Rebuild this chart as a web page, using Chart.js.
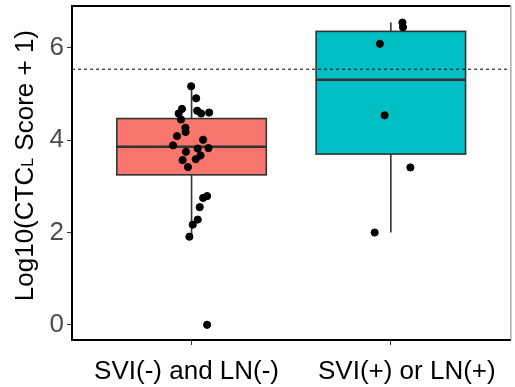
<!DOCTYPE html>
<html>
<head>
<meta charset="utf-8">
<script src="https://cdn.jsdelivr.net/npm/chart.js@4.4.1/dist/chart.umd.min.js"></script>
<style>
  html, body { margin: 0; padding: 0; background: #fff; }
  #wrap { width: 515px; height: 387px; }
</style>
</head>
<body>
<div id="wrap"><canvas id="chart" width="515" height="387"></canvas></div>
<script>
// --- Daten ---
const kategorien = ['SVI(-) and LN(-)', 'SVI(+) or LN(+)'];
const positionen = [1, 2];
const boxFarben  = ['#F8766D', '#00BFC4'];

// Boxplot-Kennwerte je Gruppe (untere Antenne, Q1, Median, Q3, obere Antenne)
const antenneUnten = [1.91, 2.00];
const q1           = [3.25, 3.70];
const median       = [3.86, 5.31];
const q3           = [4.47, 6.36];
const antenneOben  = [5.17, 6.55];

// Gejitterte Einzelwerte, Gruppe 1
const gruppe1X = [0.998, 1.023, 0.952, 0.935, 1.028, 1.048, 1.088, 0.947, 0.969, 0.970,
                  0.927, 1.058, 0.907, 1.031, 1.085, 0.972, 1.045, 1.021, 0.955, 0.982,
                  1.078, 1.058, 1.041, 1.031, 1.006, 0.989, 1.078];
const gruppe1Y = [5.17, 4.91, 4.68, 4.58, 4.64, 4.58, 4.60, 4.45, 4.27, 4.18,
                  4.09, 4.01, 3.89, 3.82, 3.83, 3.75, 3.67, 3.59, 3.57, 3.42,
                  2.79, 2.75, 2.55, 2.28, 2.17, 1.91, 0.00];
// Gruppe 2
const gruppe2X = [2.058, 2.061, 1.945, 1.969, 2.098, 1.919];
const gruppe2Y = [6.55, 6.45, 6.09, 4.54, 3.41, 2.00];

const schwelle = 5.54;            // gestrichelte Referenzlinie
const yTicks   = [0, 2, 4, 6];

const SCHRIFT = '"Liberation Sans", Arial, sans-serif';

const punkte = [
  ...gruppe1X.map((x, i) => ({ x, y: gruppe1Y[i] })),
  ...gruppe2X.map((x, i) => ({ x, y: gruppe2Y[i] })),
];

// --- Boxen, Rahmen und Beschriftungen zeichnen ---
const boxPlugin = {
  id: 'boxen',
  beforeDatasetsDraw(chart) {
    const { ctx, scales: { x, y } } = chart;
    ctx.save();
    positionen.forEach((pos, i) => {
      const xc = x.getPixelForValue(pos);
      const halb = x.getPixelForValue(pos + 0.375) - xc;
      ctx.strokeStyle = '#333333';
      // Antennen
      ctx.lineWidth = 1.6;
      ctx.beginPath();
      ctx.moveTo(xc, y.getPixelForValue(q3[i]));
      ctx.lineTo(xc, y.getPixelForValue(antenneOben[i]));
      ctx.moveTo(xc, y.getPixelForValue(q1[i]));
      ctx.lineTo(xc, y.getPixelForValue(antenneUnten[i]));
      ctx.stroke();
      // Box
      const oben = y.getPixelForValue(q3[i]);
      const unten = y.getPixelForValue(q1[i]);
      ctx.fillStyle = boxFarben[i];
      ctx.fillRect(xc - halb, oben, 2 * halb, unten - oben);
      ctx.strokeRect(xc - halb, oben, 2 * halb, unten - oben);
      // Median
      ctx.lineWidth = 2.6;
      const ym = y.getPixelForValue(median[i]);
      ctx.beginPath();
      ctx.moveTo(xc - halb, ym);
      ctx.lineTo(xc + halb, ym);
      ctx.stroke();
    });
    ctx.restore();
  },
  afterDraw(chart) {
    const { ctx, chartArea: a, scales: { x } } = chart;
    ctx.save();
    // oberer Rahmen schwarz, rechter grau
    ctx.strokeStyle = '#000';
    ctx.lineWidth = 2;
    ctx.beginPath();
    ctx.moveTo(a.left - 1, a.top);
    ctx.lineTo(a.right, a.top);
    ctx.stroke();
    ctx.strokeStyle = '#7f7f7f';
    ctx.lineWidth = 1;
    ctx.beginPath();
    ctx.moveTo(a.right + 0.5, a.top);
    ctx.lineTo(a.right + 0.5, a.bottom);
    ctx.stroke();

    // Kategorien unter der x-Achse
    const versatz = [-5, 16];
    ctx.fillStyle = '#000';
    ctx.font = '26px ' + SCHRIFT;
    ctx.textAlign = 'center';
    ctx.textBaseline = 'alphabetic';
    kategorien.forEach((k, i) => {
      ctx.fillText(k, x.getPixelForValue(positionen[i]) + versatz[i], 379);
    });

    // y-Achsentitel mit kleinem "L"
    const teile = [['Log10(CTC', 26], ['L', 16], [' Score + 1)', 26]];
    let gesamt = 0;
    teile.forEach(([t, g]) => { ctx.font = g + 'px ' + SCHRIFT; gesamt += ctx.measureText(t).width; });
    ctx.translate(32.5, 30 + gesamt);
    ctx.rotate(-Math.PI / 2);
    ctx.textAlign = 'left';
    let pos = 0;
    teile.forEach(([t, g]) => {
      ctx.font = g + 'px ' + SCHRIFT;
      ctx.fillText(t, pos, 0);
      pos += ctx.measureText(t).width;
    });
    ctx.restore();
  }
};

new Chart(document.getElementById('chart'), {
  type: 'scatter',
  data: {
    datasets: [
      {
        label: 'Werte',
        data: punkte,
        backgroundColor: '#000',
        borderColor: '#000',
        pointRadius: 3.6,
        pointHoverRadius: 3.6,
        order: 1,
      },
      {
        type: 'line',
        label: 'Schwelle',
        data: [{ x: 0.4, y: schwelle }, { x: 2.6, y: schwelle }],
        borderColor: '#000',
        borderWidth: 1,
        borderDash: [3, 3],
        pointRadius: 0,
        fill: false,
        order: 2,
      },
    ],
  },
  options: {
    responsive: false,
    animation: false,
    devicePixelRatio: 1,
    layout: { padding: { top: 6, right: 2, bottom: 0, left: 0 } },
    plugins: { legend: { display: false }, tooltip: { enabled: false } },
    scales: {
      x: {
        type: 'linear',
        min: 0.4,
        max: 2.6,
        afterFit: (s) => { s.height = 47; s.paddingLeft = 0; s.paddingRight = 0; },
        afterBuildTicks: (s) => { s.ticks = positionen.map(v => ({ value: v })); },
        ticks: { display: false },
        grid: { drawOnChartArea: false, tickLength: 5, tickColor: '#333', drawTicks: true },
        border: { display: true, color: '#000', width: 2 },
      },
      y: {
        min: -0.33,
        max: 6.91,
        // Chart.js reserviert sonst halbe Label-Höhe oben/unten
        afterFit: (s) => { s.width = 72; s.paddingTop = 0; s.paddingBottom = 0; },
        afterBuildTicks: (s) => { s.ticks = yTicks.map(v => ({ value: v })); },
        ticks: {
          color: '#4D4D4D',
          font: { family: SCHRIFT, size: 26 },
          padding: 3,
        },
        grid: { drawOnChartArea: false, tickLength: 5, tickColor: '#333' },
        border: { display: true, color: '#000', width: 2 },
      },
    },
  },
  plugins: [boxPlugin],
});
</script>
</body>
</html>
